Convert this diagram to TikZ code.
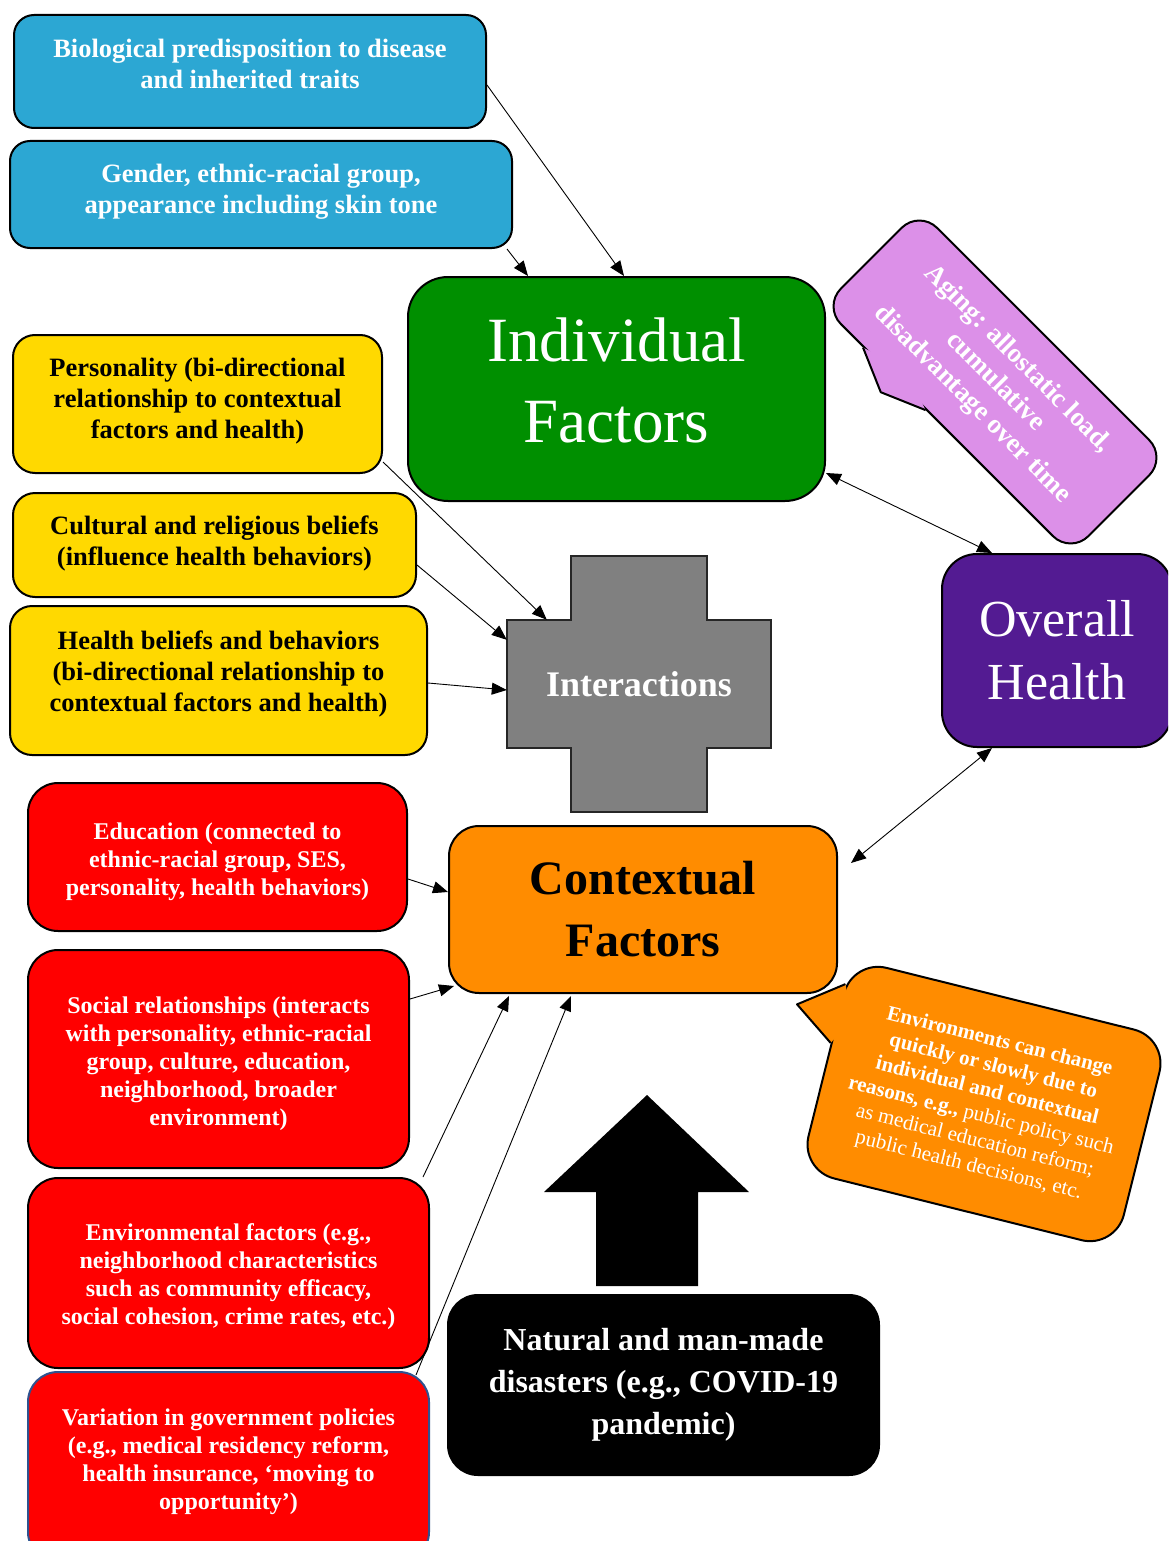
\documentclass[tikz,border=0pt]{standalone}
\usepackage{fontspec}
\setmainfont{Liberation Serif}
\usepackage{xcolor}
\usepackage{tikz}
\usetikzlibrary{arrows.meta,positioning,calc}

\definecolor{bioblue}{RGB}{44,167,211}
\definecolor{indgreen}{RGB}{0,143,0}
\definecolor{persyellow}{RGB}{255,217,0}
\definecolor{crossgray}{RGB}{128,128,128}
\definecolor{healthpurple}{RGB}{83,27,146}
\definecolor{agelilac}{RGB}{220,144,232}
\definecolor{ctxorange}{RGB}{255,140,0}
\definecolor{ctxred}{RGB}{255,0,0}
\definecolor{varborder}{RGB}{47,82,143}

\begin{document}
\begin{tikzpicture}[x=1pt, y=-1pt,
  card/.style={draw=black, line width=2pt, align=center, inner sep=0pt},
  link/.style={line width=0.9pt, -{Triangle[length=15pt,width=12pt]}},
  twoway/.style={line width=0.9pt, {Triangle[length=15pt,width=12pt]}-{Triangle[length=15pt,width=12pt]}},
  smalltext/.style={font=\bfseries\fontsize{26.5}{31}\selectfont},
  redtext/.style={font=\bfseries\fontsize{24}{28}\selectfont}]

\clip (0,0) rectangle (1168,1541);
\fill[white] (0,0) rectangle (1168,1541);

% Blue boxes (inherited)
\node[card, fill=bioblue, text=white, rounded corners=20, minimum width=472, minimum height=113, smalltext, text depth=15pt] (bio) at (250,71.5) {Biological predisposition to disease\\and inherited traits};
\node[card, fill=bioblue, text=white, rounded corners=20, minimum width=502, minimum height=107, smalltext, text depth=11pt] (gender) at (261,194.5) {Gender, ethnic-racial group,\\appearance including skin tone};

% Individual factors
\node[card, fill=indgreen, text=white, rounded corners=40, minimum width=417, minimum height=224, font=\fontsize{63}{81}\selectfont, text depth=18pt] (indiv) at (616.5,389) {Individual\\Factors};

% Aging callout, tilted
\node[card, fill=agelilac, text=white, rounded corners=25, minimum width=350, minimum height=136, rotate=-45, font=\bfseries\fontsize{27}{32}\selectfont] (aging) at (995,382) {Aging: allostatic load,\\cumulative\\disadvantage over time};
\coordinate (agea) at ($(aging.south west)!0.166!(aging.south east)$);
\coordinate (agec) at ($(aging.south west)!0.417!(aging.south east)$);
\coordinate (ageb) at ($($(aging.south west)!0.291!(aging.south east)$)!19pt!-90:(aging.south east)$);
\coordinate (agei) at ($($(aging.south west)!0.291!(aging.south east)$)!15pt!90:(aging.south east)$);
\fill[agelilac] (agea) -- (ageb) -- (agec) -- (agei) -- cycle;
\draw[line width=2pt, line join=round] (agea) -- (ageb) -- (agec);

% Yellow boxes
\node[card, fill=persyellow, rounded corners=22, minimum width=369, minimum height=138, smalltext, text depth=11pt] (pers) at (197.5,404) {Personality (bi-directional\\relationship to contextual\\factors and health)};
\node[card, fill=persyellow, rounded corners=22, minimum width=403, minimum height=104, smalltext, text depth=8pt] (cult) at (214.5,545) {Cultural and religious beliefs\\(influence health behaviors)};
\node[card, fill=persyellow, rounded corners=22, minimum width=417, minimum height=149, smalltext, text depth=19pt] (hbel) at (218.5,680.5) {Health beliefs and behaviors\\(bi-directional relationship to\\contextual factors and health)};

% Interactions cross
\filldraw[fill=crossgray, draw=black!85, line width=2pt] (507,620) -- (571,620) -- (571,556) -- (707,556) -- (707,620) -- (771,620) -- (771,748) -- (707,748) -- (707,812) -- (571,812) -- (571,748) -- (507,748) -- cycle;
\node[minimum width=264, minimum height=128, inner sep=0pt, text=white, font=\bfseries\fontsize{36}{43}\selectfont] (inter) at (639,684) {Interactions};

% Overall health
\node[card, fill=healthpurple, text=white, rounded corners=35, minimum width=230, minimum height=193, font=\fontsize{52}{63}\selectfont] (overall) at (1057,650.5) {Overall\\Health};

% Contextual factors
\node[card, fill=ctxorange, rounded corners=30, minimum width=388, minimum height=167, font=\bfseries\fontsize{48}{62}\selectfont] (ctx) at (643,909.5) {Contextual\\Factors};

% Red boxes
\node[card, fill=ctxred, text=white, rounded corners=30, minimum width=379, minimum height=148, redtext, text height=83pt] (edu) at (217.5,857) {Education (connected to\\ethnic-racial group, SES,\\personality, health behaviors)};
\node[card, fill=ctxred, text=white, rounded corners=30, minimum width=381, minimum height=218, redtext, text height=138pt] (soc) at (218.5,1059) {Social relationships (interacts\\with personality, ethnic-racial\\group, culture, education,\\neighborhood, broader\\environment)};
\node[card, fill=ctxred, text=white, rounded corners=30, minimum width=401, minimum height=190, redtext, text height=109pt] (envf) at (228.5,1273) {Environmental factors (e.g.,\\neighborhood characteristics\\such as community efficacy,\\social cohesion, crime rates, etc.)};
\node[card, draw=varborder, fill=ctxred, text=white, rounded corners=30, minimum width=401, minimum height=190, redtext, text depth=16pt] (policy) at (228.5,1467) {Variation in government policies\\(e.g., medical residency reform,\\health insurance, ‘moving to\\opportunity’)};

% Environments callout, tilted
\node[card, fill=ctxorange, text=white, rounded corners=35, minimum width=325, minimum height=217, rotate=-14, font=\fontsize{21}{25.5}\selectfont] (envnote) at (984,1104) {\textbf{Environments can change}\\\textbf{quickly or slowly due to}\\\textbf{individual and contextual}\\\textbf{reasons, e.g.,} public policy such\\as medical education reform;\\public health decisions, etc.};
\coordinate (enva) at ($(envnote.north west)!0.122!(envnote.south west)$);
\coordinate (envc) at ($(envnote.north west)!0.399!(envnote.south west)$);
\coordinate (envb) at ($($(envnote.north west)!0.265!(envnote.south west)$)!42pt!-90:(envnote.south west)$);
\coordinate (envi) at ($($(envnote.north west)!0.265!(envnote.south west)$)!15pt!90:(envnote.south west)$);
\fill[ctxorange] (enva) -- (envb) -- (envc) -- (envi) -- cycle;
\draw[line width=2pt, line join=round] (enva) -- (envb) -- (envc);

% Disasters
\fill (647,1095) -- (749,1192) -- (698,1192) -- (698,1286) -- (596,1286) -- (596,1192) -- (544,1192) -- cycle;
\node[card, fill=black, text=white, rounded corners=30, minimum width=431, minimum height=180, font=\bfseries\fontsize{32}{42}\selectfont] (disaster) at (663.5,1385) {Natural and man-made\\disasters (e.g., COVID-19\\pandemic)};

% Connectors
\draw[link] ([yshift=-13.5pt]bio.east) -- ([xshift=7.5pt]indiv.north);
\draw[link] ([xshift=-6pt]gender.south east) -- ([xshift=-88.5pt]indiv.north);
\draw[link] ([yshift=-58pt]pers.east) -- ([xshift=40pt]inter.north west);
\draw[link] ([yshift=-20pt]cult.east) -- ([yshift=-20pt]inter.north west);
\draw[link] ([yshift=-2.5pt]hbel.east) -- ([yshift=-6pt]inter.west);
\draw[twoway] ([yshift=-84pt]indiv.east) -- ([xshift=-65pt]overall.north);
\draw[twoway] ([xshift=-65pt]overall.south) -- ([xshift=13pt,yshift=46.5pt]ctx.east);
\draw[link] ([yshift=-22pt]edu.east) -- ([yshift=17.5pt]ctx.west);
\draw[link] ([yshift=60pt]soc.east) -- ([xshift=6pt,yshift=8pt]ctx.south west);
\draw[link] ([xshift=-7pt]envf.north east) -- ([xshift=61pt,yshift=-2pt]ctx.south west);
\draw[link] ([xshift=-14pt,yshift=-4pt]policy.north east) -- ([xshift=123pt,yshift=-2pt]ctx.south west);

\end{tikzpicture}
\end{document}
